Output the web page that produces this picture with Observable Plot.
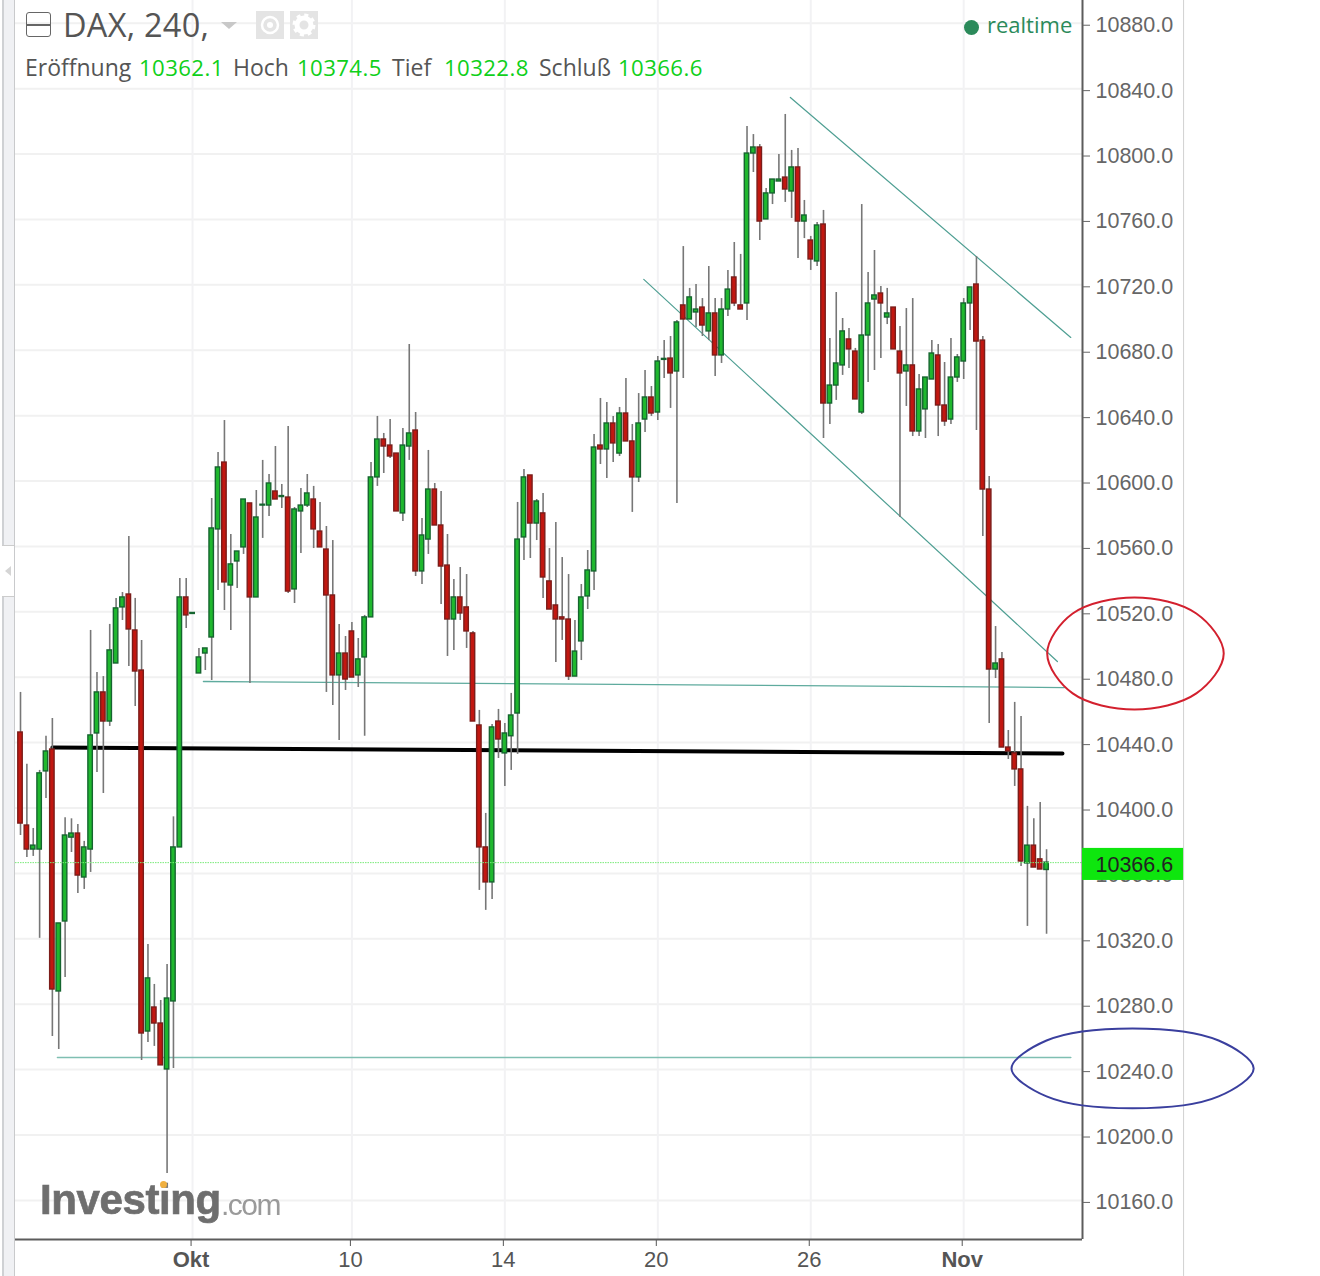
<!DOCTYPE html>
<html lang="de">
<head>
<meta charset="utf-8">
<title>DAX, 240</title>
<script src="https://cdn.jsdelivr.net/npm/d3@7"></script>
<script src="https://cdn.jsdelivr.net/npm/@observablehq/plot@0.6"></script>
<style>
html,body{margin:0;padding:0;background:#fff;}
#wrap{position:relative;width:1320px;height:1276px;overflow:hidden;}
#chart{position:absolute;left:0;top:0;}
.t{position:absolute;white-space:nowrap;font-family:"Open Sans",sans-serif;line-height:1;}
.g{color:#555;font-size:23px;top:56px;}
.v{color:#0fd01a;font-size:22.2px;top:56.5px;letter-spacing:.4px;}
.c{position:absolute;}
</style>
</head>
<body>
<div id="wrap">
  <div id="chart"></div>
  <div class="c" style="left:2px;top:0;width:2px;height:1276px;background:#cfd1d4"></div>
  <div class="c" style="left:4px;top:0;width:10px;height:1276px;background:#f0f1f4"></div>
  <div class="c" style="left:13.5px;top:0;width:1.5px;height:1276px;background:#c9cacc"></div>
  <div class="c" style="left:2px;top:545px;width:12px;height:52px;background:#fff;border-top:1px solid #ccc;border-bottom:1px solid #ccc;box-sizing:border-box"></div>
  <div class="c" style="left:5px;top:566px;width:0;height:0;border-top:5px solid transparent;border-bottom:5px solid transparent;border-right:6px solid #d5d5d5"></div>

  <div class="c" style="left:26px;top:12px;width:23px;height:23px;border:1.5px solid #666;border-radius:3px;box-sizing:content-box"></div>
  <div class="c" style="left:26px;top:24px;width:25px;height:1.5px;background:#666"></div>
  <div class="t" style="left:63px;top:9px;font-size:32.5px;letter-spacing:.25px;color:#555">DAX, 240,</div>
  <div class="c" style="left:221px;top:22px;width:0;height:0;border-left:8px solid transparent;border-right:8px solid transparent;border-top:7px solid #c8c8c8"></div>
  <svg class="c" style="left:256px;top:11px" width="62" height="28">
    <rect x="0" y="0" width="28" height="28" fill="#e4e4e4"/>
    <rect x="34" y="0" width="28" height="28" fill="#e4e4e4"/>
    <circle cx="14" cy="14" r="8" fill="none" stroke="#fff" stroke-width="2.5"/>
    <circle cx="14" cy="14" r="3" fill="#fff"/>
    <circle cx="48" cy="14" r="7" fill="none" stroke="#fff" stroke-width="5"/>
    <circle cx="48" cy="14" r="10" fill="none" stroke="#fff" stroke-width="3" stroke-dasharray="4 3.85"/>
  </svg>
  <div class="t g" style="left:25px">Eröffnung</div>
  <div class="t v" style="left:139px">10362.1</div>
  <div class="t g" style="left:233px">Hoch</div>
  <div class="t v" style="left:297px">10374.5</div>
  <div class="t g" style="left:392px">Tief</div>
  <div class="t v" style="left:444px">10322.8</div>
  <div class="t g" style="left:539px">Schluß</div>
  <div class="t v" style="left:618px">10366.6</div>
  <div class="c" style="left:964px;top:20px;width:15px;height:15px;border-radius:50%;background:#2b8a5a"></div>
  <div class="t" style="left:987px;top:13px;font-size:22px;color:#2b8a5a">realtime</div>

  <div class="t" style="left:40px;top:1179px;font-family:'Liberation Sans',sans-serif;font-weight:bold;font-size:42px;letter-spacing:-.4px;color:#6e6e6e;-webkit-text-stroke:.7px #6e6e6e;filter:blur(.6px)">Investing</div>
  <div class="t" style="left:221px;top:1190px;font-family:'Liberation Sans',sans-serif;font-size:30px;letter-spacing:-1.5px;color:#9a9a9a;filter:blur(.5px)">.com</div>
  <div class="c" style="left:160px;top:1181px;width:7px;height:7px;border-radius:50%;background:#f0b040;filter:blur(.5px)"></div>
</div>
<script>
const opens=[10446.2,10389.3,10374.6,10374.6,10422.4,10435.8,10287.8,10330.6,10381.9,10384.4,
10357.5,10374.6,10445.6,10470.7,10452.9,10488.4,10522.7,10530.6,10508.6,10484.1,
10263.3,10278.0,10268.2,10240.1,10281.7,10375.9,10528.8,10518.7,10482.3,10494.5,
10504.3,10570.4,10611.3,10536.1,10550.8,10559.4,10586.3,10528.8,10585.0,10585.0,
10593.6,10590.2,10589.9,10533.7,10581.4,10585.0,10588.7,10569.1,10558.1,10530.0,
10481.1,10494.5,10508.0,10481.1,10492.1,10516.6,10602.2,10625.4,10621.7,10616.8,
10580.2,10621.1,10630.9,10544.7,10564.2,10594.8,10572.8,10548.3,10515.3,10528.8,
10522.7,10506.8,10450.5,10375.9,10354.5,10452.9,10433.4,10443.9,10457.8,10565.5,
10603.4,10574.0,10580.2,10538.6,10523.9,10516.6,10515.3,10480.4,10501.9,10529.4,
10544.7,10621.7,10619.3,10635.2,10616.8,10641.3,10624.2,10602.2,10637.6,10651.1,
10641.9,10674.1,10674.9,10667.0,10707.4,10698.8,10703.1,10706.1,10691.5,10702.5,
10676.8,10704.9,10724.5,10707.4,10708.6,10800.3,10804.0,10760.0,10775.9,10783.2,
10785.6,10777.1,10791.8,10758.7,10747.1,10734.3,10756.9,10647.4,10658.4,10670.7,
10686.6,10679.2,10641.9,10689.0,10711.0,10714.7,10700.0,10706.1,10679.2,10667.0,
10670.7,10630.3,10643.8,10662.1,10676.8,10646.2,10637.6,10663.3,10673.1,10708.6,
10720.2,10685.9,10594.8,10484.7,10490.9,10437.0,10433.4,10423.6,10366.1,10377.0,
10368.6,10362.1];
const highs=[10470.7,10426.7,10387.5,10423.0,10443.9,10454.8,10329.4,10394.0,10393.4,10389.9,
10379.6,10508.6,10482.9,10480.4,10512.3,10528.2,10531.8,10566.1,10528.2,10502.5,
10316.6,10292.1,10282.3,10304.3,10394.6,10540.4,10540.4,10519.3,10497.6,10497.6,
10589.3,10617.5,10637.0,10567.3,10556.9,10588.7,10586.3,10594.2,10612.6,10604.0,
10621.1,10597.9,10633.4,10583.8,10595.4,10604.0,10596.7,10586.9,10572.2,10563.6,
10512.3,10504.9,10513.5,10503.7,10517.8,10611.3,10639.5,10629.1,10637.6,10616.8,
10632.1,10683.5,10641.9,10577.1,10618.7,10598.5,10593.6,10567.3,10539.8,10547.1,
10542.8,10508.0,10459.7,10396.7,10451.1,10460.3,10451.7,10470.1,10586.9,10607.1,
10603.4,10588.7,10592.4,10558.7,10574.6,10553.2,10542.8,10514.7,10536.7,10557.5,
10628.5,10650.5,10648.0,10639.5,10645.0,10662.7,10634.6,10653.5,10667.6,10657.8,
10676.2,10685.9,10688.4,10698.2,10743.4,10717.8,10720.2,10711.6,10731.2,10711.6,
10711.6,10728.8,10745.9,10738.6,10816.8,10811.9,10805.8,10778.9,10784.4,10799.7,
10824.2,10802.2,10803.4,10771.6,10749.6,10758.1,10765.5,10687.2,10715.3,10699.4,
10693.3,10681.1,10769.1,10727.5,10741.0,10719.0,10717.8,10706.1,10694.5,10705.5,
10711.6,10665.2,10663.3,10685.9,10683.5,10672.5,10687.2,10677.4,10711.6,10718.4,
10737.3,10688.4,10602.8,10511.0,10495.1,10447.4,10464.6,10456.0,10401.0,10393.4,
10403.4,10374.5];
const lows=[10383.2,10369.7,10370.4,10320.3,10405.8,10260.3,10252.3,10296.4,10372.8,10347.7,
10350.2,10360.6,10421.8,10408.9,10449.9,10488.4,10514.7,10486.6,10462.1,10245.6,
10256.6,10254.2,10242.6,10176.5,10240.7,10375.9,10509.8,10518.7,10482.3,10484.1,
10478.0,10533.1,10520.8,10508.6,10534.3,10555.1,10476.2,10528.8,10564.9,10578.3,
10588.7,10583.2,10531.2,10525.1,10555.7,10583.8,10558.7,10559.4,10470.7,10462.7,
10441.3,10471.9,10479.8,10473.7,10443.9,10516.6,10596.7,10604.6,10613.8,10581.4,
10575.3,10612.6,10541.6,10536.7,10555.1,10572.8,10524.5,10492.7,10496.4,10514.7,
10497.6,10452.9,10349.6,10337.4,10344.1,10430.3,10413.2,10423.0,10432.8,10551.4,
10552.6,10563.6,10528.2,10521.4,10489.0,10502.5,10478.0,10480.4,10490.2,10521.4,
10533.1,10610.1,10601.6,10611.3,10615.0,10624.2,10580.8,10599.1,10629.7,10639.5,
10637.0,10662.7,10644.4,10586.3,10662.7,10698.8,10693.9,10688.4,10685.9,10663.9,
10671.9,10700.6,10706.7,10704.9,10698.2,10788.7,10747.1,10760.0,10769.1,10783.2,
10770.4,10760.6,10736.1,10748.3,10728.8,10731.2,10626.0,10634.6,10649.3,10664.6,
10668.8,10649.9,10640.7,10660.3,10667.6,10674.9,10695.7,10680.5,10577.7,10645.6,
10627.2,10627.2,10626.0,10662.1,10627.2,10633.4,10634.6,10660.3,10662.1,10692.1,
10630.9,10566.1,10451.7,10479.2,10437.0,10429.7,10413.2,10364.3,10327.6,10363.6,
10362.4,10322.8];
const closes=[10390.5,10374.6,10377.0,10421.2,10434.6,10289.0,10329.4,10383.2,10384.4,10358.7,
10375.9,10444.4,10470.7,10452.9,10496.4,10522.1,10528.8,10509.2,10483.5,10262.1,
10295.8,10268.2,10242.6,10283.5,10375.9,10528.8,10517.8,10519.3,10492.1,10497.6,
10571.0,10608.3,10538.0,10549.0,10556.9,10588.7,10528.8,10577.7,10585.5,10598.5,
10588.7,10590.8,10532.4,10582.6,10585.0,10592.4,10570.4,10559.4,10530.0,10481.1,
10494.5,10478.6,10479.8,10490.9,10516.6,10602.2,10625.4,10621.1,10615.0,10581.4,
10621.7,10629.1,10544.7,10566.7,10594.8,10572.8,10547.7,10515.3,10528.8,10519.0,
10508.0,10452.9,10375.9,10354.5,10449.3,10441.9,10445.6,10456.6,10564.2,10602.2,
10574.0,10587.5,10541.0,10521.4,10515.3,10515.3,10480.4,10495.7,10528.8,10545.3,
10620.5,10619.3,10635.2,10623.0,10641.3,10624.2,10602.2,10635.2,10651.1,10641.3,
10673.1,10674.7,10665.8,10697.0,10698.8,10712.3,10704.9,10695.1,10702.5,10676.8,
10704.9,10717.1,10708.6,10704.9,10800.3,10804.0,10758.7,10775.9,10784.4,10784.4,
10778.3,10791.8,10758.7,10762.4,10735.5,10756.3,10647.4,10658.4,10671.9,10691.5,
10680.5,10649.9,10689.0,10708.6,10713.5,10708.6,10702.5,10680.5,10665.8,10670.7,
10630.3,10656.0,10663.3,10678.0,10646.2,10636.4,10663.3,10675.6,10708.6,10718.4,
10685.3,10594.8,10484.7,10488.4,10437.0,10434.6,10423.6,10367.3,10377.0,10363.6,
10362.4,10366.6];

const priceTicks=[10160,10200,10240,10280,10320,10360,10400,10440,10480,10520,10560,10600,10640,10680,10720,10760,10800,10840,10880];
const timeTicks=[27,52,76,100,124,148];
const timeLabels=["Okt","10","14","20","26","Nov"];
const boldTicks=[27,148];
const lastClose=10366.6;

// drawn trend lines, read as [bar position, price]
const blackLine=[[5.0,10437.0],[163.5,10433.4]];
const neckLine=[[28.7,10477.4],[163.8,10473.7]];
const floorLine=[[5.8,10247.4],[164.8,10247.4]];
const upperChannel=[[120.8,10834.6],[164.8,10687.8]];
const lowerChannel=[[97.8,10723.3],[162.7,10489.6]];
// hand-drawn circles, read as [bar position, price]
const redCircle=[[161.1,10494.5],[165.1,10519.0],[174.8,10528.8],[184.5,10519.0],[188.8,10494.5],[184.5,10470.1],[174.8,10460.3],[165.1,10470.1]];
const blueCircle=[[155.5,10240.7],[161.0,10257.8],[174.5,10265.2],[188.0,10257.8],[193.5,10240.7],[188.0,10223.6],[174.5,10216.3],[161.0,10223.6]];

const candles=opens.map((o,i)=>({i,open:o,high:highs[i],low:lows[i],close:closes[i]}));
const isUp=d=>d.close>=d.open;
const xMax=166.64, panelEdge=182.5, yTop=10893.9, yBottom=10136.1, yPage=10113.5;
const teal="#4f9f93";
const labelOf=i=>timeLabels[timeTicks.indexOf(i)];

const plot=Plot.plot({
  width:1320,height:1276,
  marginLeft:15,marginRight:238,marginTop:0,marginBottom:37,
  x:{domain:[-0.785,xMax],axis:null},
  y:{domain:[yBottom,yTop],axis:null},
  color:{type:"identity"},
  style:{background:"transparent",overflow:"visible"},
  marks:[
    Plot.gridY(priceTicks,{stroke:"#f1f1f1",strokeOpacity:1,strokeWidth:2}),
    Plot.gridX(timeTicks,{stroke:"#f2f2f4",strokeOpacity:1,strokeWidth:2}),
    Plot.ruleX([panelEdge],{y1:yTop,y2:yPage,stroke:"#d2d2d2",strokeWidth:1}),
    Plot.line(floorLine,{x:"0",y:"1",stroke:"#7fbfb2",strokeWidth:1.6}),
    Plot.line(neckLine,{x:"0",y:"1",stroke:"#5fab9e",strokeWidth:1.3}),
    Plot.line(upperChannel,{x:"0",y:"1",stroke:teal,strokeWidth:1.2}),
    Plot.line(lowerChannel,{x:"0",y:"1",stroke:teal,strokeWidth:1.2}),
    Plot.line(blackLine,{x:"0",y:"1",stroke:"#000",strokeWidth:4}),
    Plot.ruleX(candles,{x:"i",y1:"low",y2:"high",stroke:"#777",strokeWidth:1.6}),
    Plot.rect(candles,{
      x1:d=>d.i-.35,x2:d=>d.i+.35,y1:"open",y2:"close",
      fill:d=>isUp(d)?"#1fb82e":"#c21710",
      stroke:d=>isUp(d)?"#15652f":"#7b1d1a",
      strokeWidth:1.4
    }),
    Plot.ruleY([lastClose],{stroke:"#78ea78",strokeWidth:1,strokeDasharray:"1.5,1"}),
    Plot.ruleX([xMax],{stroke:"#5c5c5c",strokeWidth:2}),
    Plot.ruleY([yBottom],{stroke:"#5c5c5c",strokeWidth:2}),
    Plot.axisY({anchor:"right",ticks:priceTicks,tickFormat:d=>d.toFixed(1),tickSize:7,tickPadding:6,
      fontSize:21.5,fontFamily:"Liberation Sans",color:"#666",dy:2,label:null}),
    Plot.rect([{x1:xMax,x2:panelEdge,y1:10375.3,y2:10355.7}],{x1:"x1",x2:"x2",y1:"y1",y2:"y2",fill:"#0ee60e"}),
    Plot.text([lastClose],{x:()=>xMax,y:d=>d,text:d=>d.toFixed(1),dx:13,dy:2,textAnchor:"start",fontSize:21.5,fontFamily:"Liberation Sans",fill:"#222"}),
    Plot.axisX({anchor:"bottom",ticks:timeTicks.filter(t=>!boldTicks.includes(t)),tickFormat:labelOf,tickSize:6,tickPadding:5,
      fontSize:22,fontFamily:"Liberation Sans",color:"#555",label:null,dx:-1.5,dy:1}),
    Plot.axisX({anchor:"bottom",ticks:boldTicks,tickFormat:labelOf,tickSize:6,tickPadding:5,
      fontSize:22,fontWeight:"bold",fontFamily:"Liberation Sans",color:"#555",label:null,dx:-1.5,dy:1}),
    Plot.line(redCircle,{x:"0",y:"1",curve:"catmull-rom-closed",stroke:"#d3202e",strokeWidth:2}),
    Plot.line(blueCircle,{x:"0",y:"1",curve:"catmull-rom-closed",stroke:"#3a3f9e",strokeWidth:2})
  ]
});
document.getElementById("chart").appendChild(plot);
</script>
</body>
</html>
